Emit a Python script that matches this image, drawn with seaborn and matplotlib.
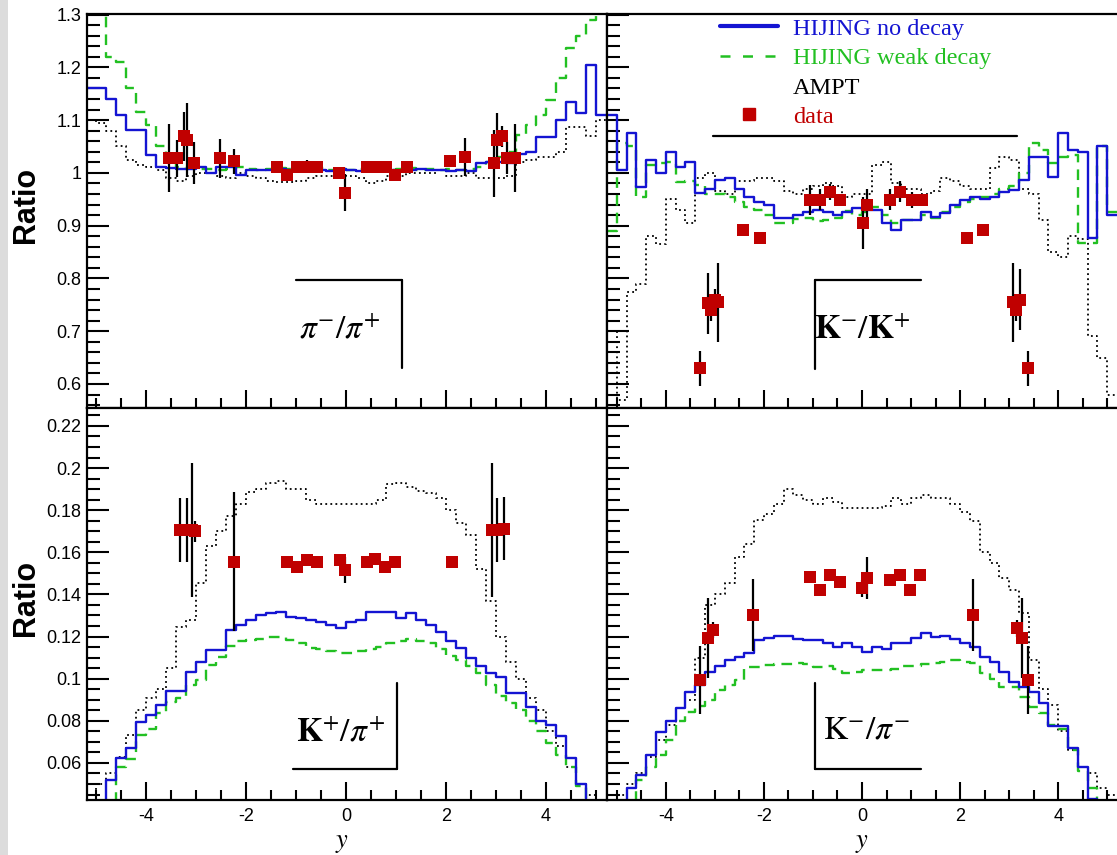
import numpy as np
import pandas as pd
import matplotlib
matplotlib.use("Agg")
import matplotlib.pyplot as plt
import seaborn as sns
from matplotlib.lines import Line2D
from matplotlib.patches import Rectangle
from matplotlib.ticker import MultipleLocator, FuncFormatter

# ---------------- data ----------------
bin_edges = np.round(np.arange(-5.2, 5.2001, 0.2), 2)   # 52 bins of width 0.2

# pi-/pi+
pipi_nodecay = [1.16, 1.16, 1.14, 1.11, 1.082, 1.082, 1.034, 1.012, 1.010, 1.008, 1.008, 1.012, 1.000,
                1.012, 1.012, 0.996, 1.005, 1.006, 1.006, 1.008, 1.006, 1.006, 1.004, 1.006, 1.004, 1.008,
                1.006, 1.004, 1.006, 1.008, 1.006, 1.004, 1.006, 1.008, 1.006, 1.006, 1.004, 1.006, 1.004,
                1.018, 1.020, 1.020, 1.018, 1.035, 1.040, 1.068, 1.068, 1.100, 1.135, 1.113, 1.205, 1.110]
pipi_weak = [1.35, 1.35, 1.22, 1.21, 1.16, 1.116, 1.09, 1.05, 1.02, 1.012, 1.010, 1.008, 1.008,
             1.006, 1.008, 1.012, 1.008, 1.006, 1.008, 1.010, 1.008, 1.006, 1.008, 1.010, 1.006, 1.008,
             1.006, 1.008, 1.010, 1.008, 1.006, 1.008, 1.010, 1.006, 1.008, 1.006, 1.008, 1.006, 1.008,
             1.012, 1.020, 1.030, 1.040, 1.072, 1.090, 1.110, 1.138, 1.180, 1.237, 1.260, 1.290, 1.350]
pipi_ampt = [1.10, 1.095, 1.08, 1.05, 1.025, 1.015, 1.012, 1.005, 0.990, 0.985, 0.995, 1.000, 1.000,
             0.995, 0.990, 1.000, 0.995, 0.990, 0.985, 0.983, 0.983, 0.985, 0.990, 0.995, 0.995, 1.000,
             0.995, 0.990, 0.980, 0.985, 0.995, 0.995, 1.000, 1.000, 1.000, 1.005, 0.995, 0.995, 1.000,
             0.990, 0.990, 0.990, 0.995, 1.020, 1.025, 1.030, 1.030, 1.040, 1.087, 1.087, 1.070, 1.100]
pipi_data_y = [-3.55, -3.39, -3.25, -3.19, -3.05, -2.52, -2.25, -1.39, -1.19, -0.99, -0.79, -0.59, -0.15,
               -0.02, 0.41, 0.61, 0.79, 0.98, 1.21, 2.08, 2.38, 2.95, 3.01, 3.11, 3.21, 3.38]
pipi_data = [1.028, 1.028, 1.069, 1.063, 1.018, 1.028, 1.022, 1.012, 0.996, 1.012, 1.012, 1.012, 1.000,
             0.962, 1.012, 1.012, 1.012, 0.996, 1.012, 1.022, 1.030, 1.018, 1.063, 1.069, 1.028, 1.028]
pipi_err = [0.064, 0.035, 0.047, 0.070, 0.040, 0.037, 0.024, 0.005, 0.010, 0.008, 0.012, 0.005, 0.005,
            0.035, 0.008, 0.005, 0.008, 0.005, 0.008, 0.005, 0.036, 0.064, 0.050, 0.020, 0.030, 0.064]

# K-/K+
kk_nodecay = [1.11, 1.006, 1.076, 0.973, 1.025, 1.000, 1.040, 1.011, 1.020, 0.962, 0.970, 0.987, 0.990,
              0.970, 0.955, 0.945, 0.940, 0.915, 0.915, 0.920, 0.925, 0.930, 0.926, 0.920, 0.925, 0.934,
              0.930, 0.930, 0.905, 0.892, 0.910, 0.910, 0.925, 0.917, 0.924, 0.940, 0.949, 0.955, 0.950,
              0.955, 0.964, 0.967, 0.987, 1.030, 1.030, 0.992, 1.076, 1.044, 1.040, 0.877, 1.050, 0.920]
kk_weak = [0.89, 1.057, 1.050, 0.955, 1.015, 1.018, 1.020, 0.983, 0.985, 0.977, 0.960, 0.960, 0.955,
           0.945, 0.935, 0.930, 0.920, 0.905, 0.905, 0.912, 0.915, 0.908, 0.911, 0.915, 0.928, 0.920,
           0.925, 0.935, 0.920, 0.905, 0.910, 0.910, 0.920, 0.915, 0.925, 0.935, 0.945, 0.950, 0.955,
           0.960, 0.970, 0.975, 1.000, 1.057, 1.044, 1.018, 1.030, 1.034, 0.867, 0.867, 1.050, 0.925]
kk_ampt = [0.70, 0.57, 0.775, 0.79, 0.88, 0.865, 0.95, 0.93, 0.905, 0.99, 1.00, 0.965, 0.96,
           0.985, 0.985, 0.99, 0.99, 0.985, 0.965, 0.96, 0.97, 0.975, 0.98, 0.975, 0.955, 0.96,
           0.96, 1.015, 1.02, 0.98, 0.97, 0.97, 0.96, 0.965, 0.99, 0.985, 0.975, 0.97, 0.97,
           1.01, 1.03, 1.025, 0.97, 0.96, 0.91, 0.85, 0.84, 0.88, 0.875, 0.69, 0.65, 0.58]
kk_data_y = [-3.31, -3.14, -3.07, -3.00, -2.94, -2.43, -2.08, -1.06, -0.86, -0.65, -0.45, 0.02, 0.10,
             0.57, 0.78, 1.01, 1.22, 2.14, 2.47, 3.08, 3.15, 3.22, 3.39]
kk_data = [0.630, 0.753, 0.740, 0.760, 0.755, 0.892, 0.877, 0.949, 0.949, 0.964, 0.949, 0.905, 0.939,
           0.949, 0.964, 0.949, 0.949, 0.877, 0.892, 0.755, 0.740, 0.760, 0.630]
kk_err = [0.033, 0.058, 0.020, 0.020, 0.075, 0.005, 0.005, 0.028, 0.020, 0.015, 0.010, 0.050, 0.030,
          0.020, 0.020, 0.015, 0.010, 0.005, 0.005, 0.075, 0.020, 0.058, 0.033]

# K+/pi+
kpip_nodecay = [0.035, 0.040, 0.052, 0.0624, 0.067, 0.0796, 0.0828, 0.0876, 0.094, 0.094, 0.1033, 0.108, 0.1137,
                0.1137, 0.123, 0.1255, 0.128, 0.130, 0.131, 0.1318, 0.1295, 0.129, 0.128, 0.127, 0.1255, 0.124,
                0.127, 0.128, 0.1318, 0.1318, 0.1318, 0.1286, 0.131, 0.128, 0.1255, 0.122, 0.118, 0.1146, 0.110,
                0.106, 0.1028, 0.101, 0.0933, 0.0933, 0.0867, 0.080, 0.078, 0.073, 0.0624, 0.050, 0.040, 0.035]
kpip_weak = [0.030, 0.030, 0.038, 0.058, 0.062, 0.0733, 0.076, 0.0837, 0.089, 0.091, 0.097, 0.0996, 0.1065,
             0.1105, 0.1156, 0.118, 0.1184, 0.119, 0.120, 0.120, 0.1184, 0.117, 0.1146, 0.114, 0.113, 0.1122,
             0.112, 0.113, 0.114, 0.1152, 0.117, 0.118, 0.119, 0.118, 0.117, 0.114, 0.111, 0.109, 0.106,
             0.1027, 0.0972, 0.092, 0.0885, 0.085, 0.080, 0.0753, 0.0695, 0.064, 0.058, 0.049, 0.040, 0.030]
kpip_ampt = [0.045, 0.050, 0.055, 0.063, 0.0733, 0.085, 0.091, 0.095, 0.105, 0.1245, 0.128, 0.1455, 0.163,
             0.170, 0.177, 0.183, 0.1886, 0.190, 0.193, 0.194, 0.190, 0.190, 0.185, 0.183, 0.183, 0.183,
             0.183, 0.183, 0.183, 0.185, 0.1925, 0.193, 0.191, 0.189, 0.188, 0.186, 0.180, 0.174, 0.168,
             0.152, 0.137, 0.120, 0.108, 0.100, 0.091, 0.085, 0.075, 0.068, 0.058, 0.050, 0.045, 0.040]
kpip_data_y = [-3.32, -3.19, -3.09, -3.03, -2.25, -1.19, -0.99, -0.79, -0.59, -0.12, -0.02, 0.41, 0.57,
               0.77, 0.97, 2.11, 2.91, 3.01, 3.15]
kpip_data = [0.1706, 0.1706, 0.1706, 0.1700, 0.1556, 0.1556, 0.1532, 0.1563, 0.1556, 0.1563, 0.1516, 0.1556,
             0.1570, 0.1532, 0.1556, 0.1556, 0.1706, 0.1706, 0.1712]
kpip_err = [0.015, 0.015, 0.032, 0.005, 0.033, 0.002, 0.002, 0.002, 0.002, 0.002, 0.006, 0.002,
            0.002, 0.002, 0.002, 0.002, 0.032, 0.015, 0.015]

# K-/pi-
kpim_nodecay = [0.035, 0.040, 0.048, 0.0544, 0.0638, 0.0749, 0.080, 0.0861, 0.0939, 0.097, 0.1033, 0.106, 0.109,
                0.1104, 0.1122, 0.1184, 0.1192, 0.1203, 0.1203, 0.119, 0.1184, 0.1184, 0.117, 0.1152, 0.117, 0.1152,
                0.1128, 0.1150, 0.114, 0.117, 0.117, 0.1192, 0.1218, 0.120, 0.1203, 0.1187, 0.117, 0.1152, 0.1104,
                0.1081, 0.1033, 0.0986, 0.096, 0.0939, 0.0885, 0.0773, 0.0773, 0.0671, 0.0583, 0.043, 0.035, 0.030]
kpim_weak = [0.030, 0.035, 0.042, 0.052, 0.058, 0.064, 0.071, 0.080, 0.0842, 0.087, 0.090, 0.0945, 0.097,
             0.0995, 0.1057, 0.1057, 0.1065, 0.107, 0.107, 0.1075, 0.107, 0.1057, 0.106, 0.1045, 0.1027, 0.103,
             0.104, 0.104, 0.1042, 0.1045, 0.106, 0.106, 0.107, 0.1075, 0.108, 0.109, 0.108, 0.1075, 0.1027,
             0.100, 0.0962, 0.0962, 0.0915, 0.0867, 0.0837, 0.078, 0.076, 0.066, 0.056, 0.048, 0.040, 0.035]
kpim_ampt = [0.040, 0.045, 0.050, 0.055, 0.063, 0.071, 0.078, 0.086, 0.090, 0.110, 0.135, 0.140, 0.1455,
             0.158, 0.164, 0.1755, 0.178, 0.183, 0.190, 0.187, 0.185, 0.183, 0.186, 0.184, 0.181, 0.181,
             0.181, 0.181, 0.182, 0.186, 0.183, 0.186, 0.187, 0.186, 0.186, 0.183, 0.179, 0.175, 0.160,
             0.155, 0.148, 0.142, 0.131, 0.109, 0.095, 0.0876, 0.075, 0.066, 0.058, 0.055, 0.048, 0.045]
kpim_data_y = [-3.31, -3.14, -3.03, -2.22, -1.06, -0.86, -0.65, -0.45, 0.00, 0.10, 0.57, 0.78, 0.98, 1.18,
               2.27, 3.16, 3.26, 3.39]
kpim_data = [0.0994, 0.1192, 0.1231, 0.1303, 0.1484, 0.1420, 0.1490, 0.1460, 0.1430, 0.1480, 0.1470, 0.1490,
             0.1420, 0.1490, 0.1303, 0.1240, 0.1192, 0.0994]
kpim_err = [0.016, 0.019, 0.004, 0.017, 0.002, 0.002, 0.002, 0.002, 0.004, 0.010, 0.002, 0.002,
            0.002, 0.002, 0.017, 0.004, 0.019, 0.016]

model_names = ["HIJING no decay", "HIJING weak decay", "AMPT", "data"]
panel_titles = [r"$\pi^{-}/\pi^{+}$", r"$\mathbf{K}^{-}/\mathbf{K}^{+}$",
                r"$\mathbf{K}^{+}/\pi^{+}$", r"$\mathrm{K}^{-}/\pi^{-}$"]

# ---------------- style ----------------
sns.set_theme(style="white")
plt.rcParams["font.family"] = ["Liberation Sans", "DejaVu Sans"]
plt.rcParams["mathtext.fontset"] = "stix"

BLUE = "#1414d2"
GREEN = "#22c022"
RED = "#c00000"

W, H = 1117, 855
fig = plt.figure(figsize=(W / 100, H / 100), dpi=100)
fig.patches.append(Rectangle((0, 0), 8 / W, 1, transform=fig.transFigure,
                             facecolor="#dcdcdc", edgecolor="none", zorder=-5))


def add_axes(px0, py_top, pw, ph):
    return fig.add_axes([px0 / W, 1 - (py_top + ph) / H, pw / W, ph / H])


ax_tl = add_axes(87, 14, 520, 394)
ax_tr = add_axes(607, 14, 510, 394)
ax_bl = add_axes(87, 408, 520, 392)
ax_br = add_axes(607, 408, 510, 392)


def hist_frame(vals, name):
    v = list(vals) + [vals[-1]]
    return pd.DataFrame({"y": bin_edges, "ratio": v, "model": name})


def draw_panel(ax, blue, green, ampt, dx, dy, derr):
    df_a = hist_frame(ampt, model_names[2])
    sns.lineplot(data=df_a, x="y", y="ratio", color="black", linewidth=1.3,
                 drawstyle="steps-post", estimator=None, sort=False, ax=ax, legend=False)
    ax.lines[-1].set_dashes((1.0, 1.8))
    df_g = hist_frame(green, model_names[1])
    sns.lineplot(data=df_g, x="y", y="ratio", color=GREEN, linewidth=1.7,
                 drawstyle="steps-post", estimator=None, sort=False, ax=ax, legend=False)
    ax.lines[-1].set_dashes((4.5, 3.0))
    df_b = hist_frame(blue, model_names[0])
    sns.lineplot(data=df_b, x="y", y="ratio", color=BLUE, linewidth=1.7,
                 drawstyle="steps-post", estimator=None, sort=False, ax=ax, legend=False)
    ax.errorbar(dx, dy, yerr=derr, fmt="none", ecolor="black", elinewidth=1.6, capsize=0, zorder=4)
    sns.scatterplot(x=dx, y=dy, marker="s", s=72, color=RED, edgecolor=RED, linewidth=0,
                    ax=ax, zorder=5, legend=False)


draw_panel(ax_tl, pipi_nodecay, pipi_weak, pipi_ampt, pipi_data_y, pipi_data, pipi_err)
draw_panel(ax_tr, kk_nodecay, kk_weak, kk_ampt, kk_data_y, kk_data, kk_err)
draw_panel(ax_bl, kpip_nodecay, kpip_weak, kpip_ampt, kpip_data_y, kpip_data, kpip_err)
draw_panel(ax_br, kpim_nodecay, kpim_weak, kpim_ampt, kpim_data_y, kpim_data, kpim_err)

fmt = FuncFormatter(lambda v, p: ("%g" % round(v, 4)))
for ax in (ax_tl, ax_tr, ax_bl, ax_br):
    ax.set_facecolor("white")
    for s in ax.spines.values():
        s.set_color("black")
        s.set_linewidth(1.6)
    ax.xaxis.set_major_locator(MultipleLocator(2))
    ax.xaxis.set_minor_locator(MultipleLocator(0.5))
    ax.tick_params(which="both", direction="in", left=True, bottom=True, top=False, right=False,
                   colors="black", width=1.5, labelsize=13)
    ax.tick_params(axis="x", which="major", length=13, pad=6)
    ax.tick_params(axis="x", which="minor", length=7)
    ax.tick_params(axis="y", which="major", length=16, pad=4)
    ax.tick_params(axis="y", which="minor", length=9)
    ax.set_xlabel("")
    ax.set_ylabel("")
    ax.yaxis.set_major_formatter(fmt)
    ax.xaxis.set_major_formatter(fmt)

for ax in (ax_tl, ax_bl):
    ax.set_xlim(-5.18, 5.22)
for ax in (ax_tr, ax_br):
    ax.set_xlim(-5.2, 5.2)
    ax.spines["right"].set_visible(False)
    ax.tick_params(labelleft=False)

for ax in (ax_tl, ax_tr):
    ax.set_ylim(0.5545, 1.301)
    ax.yaxis.set_major_locator(MultipleLocator(0.1))
    ax.yaxis.set_minor_locator(MultipleLocator(0.02))
    ax.tick_params(labelbottom=False)
for ax in (ax_bl, ax_br):
    ax.set_ylim(0.0424, 0.2285)
    ax.yaxis.set_major_locator(MultipleLocator(0.02))
    ax.yaxis.set_minor_locator(MultipleLocator(0.005))

# axis titles
for ax in (ax_tl, ax_bl):
    ax.set_ylabel("Ratio", fontsize=22, fontweight="bold", color="black")
    ax.yaxis.set_label_coords(-0.088, 0.515)
for ax, xc in ((ax_bl, 0.49), (ax_br, 0.5)):
    ax.set_xlabel(r"$y$", fontsize=19, color="black")
    ax.xaxis.set_label_coords(xc, -0.078)

# panel labels with their partial frames (axes fractions)
label_specs = [
    (ax_tl, panel_titles[0], (0.487, 0.198), [((0.402, 0.606), (0.325, 0.325)), ((0.606, 0.606), (0.325, 0.1015))]),
    (ax_tr, panel_titles[1], (0.500, 0.198), [((0.408, 0.616), (0.325, 0.325)), ((0.408, 0.408), (0.325, 0.099))]),
    (ax_bl, panel_titles[2], (0.488, 0.171), [((0.596, 0.596), (0.298, 0.079)), ((0.396, 0.596), (0.079, 0.079))]),
    (ax_br, panel_titles[3], (0.508, 0.179), [((0.408, 0.408), (0.298, 0.079)), ((0.408, 0.616), (0.079, 0.079))]),
]
for ax, txt, (tx, ty), segs in label_specs:
    ax.text(tx, ty, txt, transform=ax.transAxes, ha="center", va="center", fontsize=24, color="black")
    for xs, ys in segs:
        ax.add_line(Line2D(xs, ys, transform=ax.transAxes, color="black", lw=1.6))

# legend
handles = [Line2D([], [], color=BLUE, lw=3.0),
           Line2D([], [], color=GREEN, lw=1.8, dashes=(4, 5)),
           Line2D([], [], color="none"),
           Line2D([], [], marker="s", color=RED, ls="none", markersize=8)]
leg = ax_tr.legend(handles, model_names, loc="upper left", bbox_to_anchor=(0.2216, 0.99),
                   frameon=False, prop={"family": "Liberation Serif", "size": 17.5},
                   labelcolor=[BLUE, GREEN, "black", RED], handlelength=2.4, handletextpad=0.6,
                   labelspacing=0.3, borderpad=0, borderaxespad=0)
ax_tr.add_line(Line2D((0.208, 0.804), (0.690, 0.690), transform=ax_tr.transAxes, color="black", lw=1.6))

fig.savefig("out.png", dpi=100)
